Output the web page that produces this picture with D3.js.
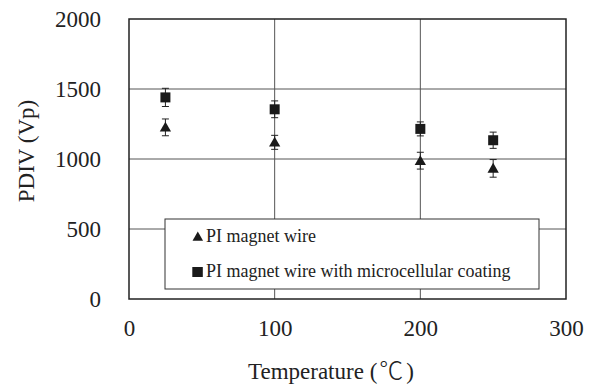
<!DOCTYPE html>
<html><head><meta charset="utf-8">
<script src="https://cdn.jsdelivr.net/npm/d3@7"></script>
<style>body{margin:0;background:#fff}svg{display:block}</style>
</head><body><div id="c"></div>
<script>
const temps = [25, 100, 200, 250];
const piWire = [1226, 1119, 988, 933];
const piWireErr = [60, 50, 60, 63];
const piCoated = [1440, 1355, 1215, 1134];
const piCoatedErr = [65, 60, 50, 58];
const xTicks = [0, 100, 200, 300];
const yTicks = [0, 500, 1000, 1500, 2000];
const seriesNames = ["PI magnet wire", "PI magnet wire with microcellular coating"];

const FONT = "'Liberation Serif','Times New Roman',serif";
const W = 591, H = 387;
const m = {l:129, t:19, r:566, b:299};
const svg = d3.select("#c").append("svg").attr("width", W).attr("height", H);
const x = d3.scaleLinear().domain([0,300]).range([m.l, m.r]);
const y = d3.scaleLinear().domain([0,2000]).range([m.b, m.t]);

// gridlines
svg.append("g").selectAll("line").data(yTicks.filter(d=>d>0&&d<2000)).join("line")
  .attr("x1", m.l).attr("x2", m.r).attr("y1", d=>y(d)).attr("y2", d=>y(d))
  .attr("stroke", "#555").attr("stroke-width", 1);
svg.append("g").selectAll("line").data(xTicks.filter(d=>d>0&&d<300)).join("line")
  .attr("y1", m.t).attr("y2", m.b).attr("x1", d=>x(d)).attr("x2", d=>x(d))
  .attr("stroke", "#555").attr("stroke-width", 1);

// frame
svg.append("rect").attr("x", m.l).attr("y", m.t).attr("width", m.r-m.l).attr("height", m.b-m.t)
  .attr("fill", "none").attr("stroke", "#222").attr("stroke-width", 1.5);

// axes labels
const yAxis = d3.axisLeft(y).tickValues(yTicks).tickFormat(d3.format("d")).tickSize(0).tickPadding(28);
const gy = svg.append("g").attr("transform", `translate(${m.l},0)`).call(yAxis);
gy.select(".domain").remove();
gy.selectAll("text").style("font-size","23px").style("fill","#222").style("font-family",FONT);
const xAxis = d3.axisBottom(x).tickValues(xTicks).tickFormat(d3.format("d")).tickSize(0).tickPadding(21);
const gx = svg.append("g").attr("transform", `translate(0,${m.b})`).call(xAxis);
gx.select(".domain").remove();
gx.selectAll("text").style("font-size","23px").style("fill","#222").style("font-family",FONT);

svg.append("text").attr("transform", `translate(34,151) rotate(-90)`).attr("text-anchor","middle")
  .style("font-size","23px").style("font-family",FONT).style("fill","#222").text("PDIV (Vp)");
const xt = svg.append("text").attr("x", 248).attr("y", 379)
  .style("font-size","23px").style("font-family",FONT).style("fill","#222");
xt.append("tspan").text("Temperature (");
xt.append("tspan").style("font-family","'Noto Sans CJK JP',serif").style("font-size","24px").style("font-weight","300").attr("dx",2).text("\u2103");
xt.append("tspan").attr("dx",3).text(")");

// data
function drawSeries(vals, errs, shape) {
  const g = svg.append("g");
  const d = temps.map((t,i)=>({t, v:vals[i], e:errs[i]}));
  g.selectAll("line.e").data(d).join("line").attr("class","e").attr("x1", p=>x(p.t)).attr("x2", p=>x(p.t))
    .attr("y1", p=>y(p.v+p.e)).attr("y2", p=>y(p.v-p.e)).attr("stroke","#222").attr("stroke-width",1);
  g.selectAll("line.c1").data(d).join("line").attr("class","c1").attr("x1", p=>x(p.t)-3.5).attr("x2", p=>x(p.t)+3.5)
    .attr("y1", p=>y(p.v+p.e)).attr("y2", p=>y(p.v+p.e)).attr("stroke","#222").attr("stroke-width",1);
  g.selectAll("line.c2").data(d).join("line").attr("class","c2").attr("x1", p=>x(p.t)-3.5).attr("x2", p=>x(p.t)+3.5)
    .attr("y1", p=>y(p.v-p.e)).attr("y2", p=>y(p.v-p.e)).attr("stroke","#222").attr("stroke-width",1);
  const sym = shape === "tri" ? d3.symbol(d3.symbolTriangle, 55) : d3.symbol(d3.symbolSquare, 100);
  g.selectAll("path").data(d).join("path").attr("d", sym)
    .attr("transform", p=>`translate(${x(p.t)},${y(p.v) + (shape==="tri"?1:0)})`).attr("fill","#1a1a1a");
}
drawSeries(piWire, piWireErr, "tri");
drawSeries(piCoated, piCoatedErr, "sq");

// legend
const lg = svg.append("g");
lg.append("rect").attr("x",165).attr("y",219).attr("width",374).attr("height",70)
  .attr("fill","#fff").attr("stroke","#333").attr("stroke-width",1);
lg.append("path").attr("d", d3.symbol(d3.symbolTriangle, 48)).attr("transform","translate(197.8,237.6)").attr("fill","#1a1a1a");
lg.append("rect").attr("x",192.3).attr("y",267).attr("width",10.5).attr("height",10).attr("fill","#1a1a1a");
lg.append("text").attr("x",206).attr("y",242).style("font-size","18px").style("font-family",FONT).style("fill","#222").text(seriesNames[0]);
lg.append("text").attr("x",206).attr("y",277).style("font-size","18px").style("font-family",FONT).style("fill","#222").text(seriesNames[1]);
</script></body></html>
